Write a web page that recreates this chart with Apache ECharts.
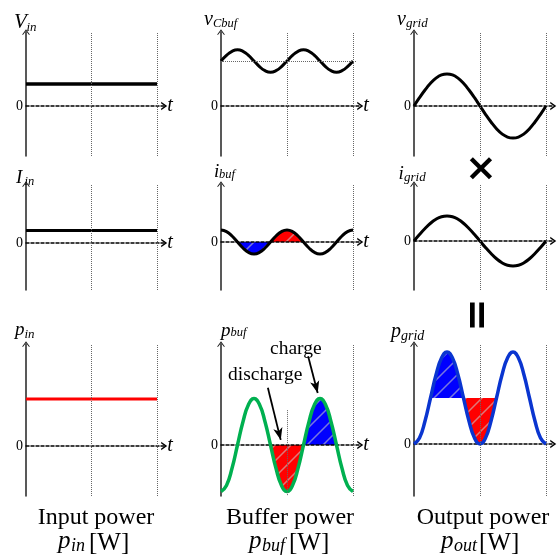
<!DOCTYPE html>
<html><head><meta charset="utf-8">
<script src="https://cdn.jsdelivr.net/npm/echarts@6/dist/echarts.min.js"></script>
<style>html,body{margin:0;padding:0;background:#fff}#c{width:557px;height:556px}</style>
</head><body><div id="c"></div>
<script>
// ---------- DATA ----------
// time samples; dotted verticals are at t = 1 and t = 2
const tSamples = [0, 0.083, 0.167, 0.25, 0.333, 0.417, 0.5, 0.583, 0.667, 0.75, 0.833, 0.917, 1,
                  1.083, 1.167, 1.25, 1.333, 1.417, 1.5, 1.583, 1.667, 1.75, 1.833, 1.917, 2];
const tFlat = [0, 2];
const vIn = [1, 1];
const iIn = [1, 1];
const pIn = [1, 1];
const vCbuf = [2, 2.25, 2.43, 2.5, 2.43, 2.25, 2, 1.75, 1.57, 1.5, 1.57, 1.75, 2,
               2.25, 2.43, 2.5, 2.43, 2.25, 2, 1.75, 1.57, 1.5, 1.57, 1.75, 2];
const vCbufMean = 2;
const vGrid = [0, 0.26, 0.5, 0.71, 0.87, 0.97, 1, 0.97, 0.87, 0.71, 0.5, 0.26, 0,
               -0.26, -0.5, -0.71, -0.87, -0.97, -1, -0.97, -0.87, -0.71, -0.5, -0.26, 0];
const iBuf = [1, 0.87, 0.5, 0, -0.5, -0.87, -1, -0.87, -0.5, 0, 0.5, 0.87, 1,
              0.87, 0.5, 0, -0.5, -0.87, -1, -0.87, -0.5, 0, 0.5, 0.87, 1];
const iGrid = [0, 0.26, 0.5, 0.71, 0.87, 0.97, 1, 0.97, 0.87, 0.71, 0.5, 0.26, 0,
               -0.26, -0.5, -0.71, -0.87, -0.97, -1, -0.97, -0.87, -0.71, -0.5, -0.26, 0];
const pBuf = [-1, -0.87, -0.5, 0, 0.5, 0.87, 1, 0.87, 0.5, 0, -0.5, -0.87, -1,
              -0.87, -0.5, 0, 0.5, 0.87, 1, 0.87, 0.5, 0, -0.5, -0.87, -1];
const pGrid = [0, 0.13, 0.5, 1, 1.5, 1.87, 2, 1.87, 1.5, 1, 0.5, 0.13, 0,
               0.13, 0.5, 1, 1.5, 1.87, 2, 1.87, 1.5, 1, 0.5, 0.13, 0];
const pGridAvg = 1;
// shaded segments [startIndex, endIndex] into tSamples
const iBufDischarge = [3, 9];
const iBufCharge = [9, 15];
const pBufDischarge = [9, 15];
const pBufCharge = [15, 21];
const pGridCharge = [3, 9];
const pGridDischarge = [9, 15];
// texts
const yNames = [['V','in'],['v','Cbuf'],['v','grid'],['I','in'],['i','buf'],['i','grid'],['p','in'],['p','buf'],['p','grid']];
const captions = ['Input power', 'Buffer power', 'Output power'];
const captionSyms = [['p','in'],['p','buf'],['p','out']];
const unitText = '[W]';
const zeroLabel = '0';
const timeName = 't';
const annot = ['discharge', 'charge'];

// ---------- LAYOUT ----------
const cols = [{left: 26, unit: 65.5}, {left: 221, unit: 66}, {left: 414, unit: 66}];
const rows = [{top: 32, bottom: 156}, {top: 184, bottom: 290}, {top: 344, bottom: 496}];
const xMax = 2.11;
const panels = [
  {c:0, r:0, zero:106, ppu:22}, {c:1, r:0, zero:106, ppu:22.5}, {c:2, r:0, zero:106, ppu:32},
  {c:0, r:1, zero:243, ppu:12.5}, {c:1, r:1, zero:242, ppu:12}, {c:2, r:1, zero:241, ppu:25},
  {c:0, r:2, zero:446, ppu:47}, {c:1, r:2, zero:445, ppu:46.5}, {c:2, r:2, zero:444, ppu:46}
];
const SERIF = '"Liberation Serif", "Times New Roman", serif';
const chevUp = 'path://M0,7 L5,0 L10,7 L8.6,7 L5,2.2 L1.4,7 Z';
const chevX = 'path://M0,7 L5,0 L10,7 L8,7 L5,2.8 L2,7 Z';

function hatch(color) {
  const S = 16;
  const c = document.createElement('canvas'); c.width = S; c.height = S;
  const g = c.getContext('2d'); g.fillStyle = color; g.fillRect(0, 0, S, S);
  g.strokeStyle = 'rgba(200,200,200,0.6)'; g.lineWidth = 1.5;
  g.beginPath();
  g.moveTo(0, S); g.lineTo(S, 0);
  g.moveTo(-S / 2, S / 2); g.lineTo(S / 2, -S / 2);
  g.moveTo(S / 2, S * 1.5); g.lineTo(S * 1.5, S / 2);
  g.stroke();
  return {image: c, repeat: 'repeat'};
}
const RED = hatch('#ff0000');
const BLUE = hatch('#0000ff');

const grid = [], xAxis = [], yAxis = [];
panels.forEach((p, i) => {
  const col = cols[p.c], row = rows[p.r];
  grid.push({left: col.left, top: row.top, width: col.unit * xMax, height: row.bottom - row.top, containLabel: false});
  xAxis.push({
    gridIndex: i, type: 'value', min: 0, max: xMax, z: 1.5,
    name: p.c < 2 ? timeName : '', nameLocation: 'end', nameGap: 3,
    nameTextStyle: {fontFamily: SERIF, fontStyle: 'italic', fontSize: 20, color: '#000', padding: [0, 0, 2, 0]},
    axisLine: {show: true, onZero: true, symbol: ['none', chevX], symbolSize: [10, 6],
      lineStyle: {color: '#000', width: 1.5, type: [3, 2]}},
    axisTick: {show: false}, axisLabel: {show: false}, splitLine: {show: false}
  });
  yAxis.push({
    gridIndex: i, type: 'value',
    min: -(row.bottom - p.zero) / p.ppu, max: (p.zero - row.top) / p.ppu,
    axisLine: {show: true, onZero: false, symbol: ['none', chevUp], symbolSize: [8, 6],
      lineStyle: {color: '#222', width: 1.5}},
    axisTick: {show: false}, splitLine: {show: false},
    axisLabel: {show: true, customValues: [0], formatter: () => zeroLabel, margin: 3,
      fontFamily: SERIF, fontSize: 14, color: '#000'}
  });
});

const dotted = {type: 'dotted', color: '#666', width: 1};
function vlines(extra) {
  return {silent: true, symbol: ['none', 'none'], label: {show: false}, lineStyle: dotted,
    animation: false, data: extra};
}
function curve(i, xs, ys, color, width, smooth, ml) {
  return {type: 'line', xAxisIndex: i, yAxisIndex: i, data: xs.map((x, k) => [x, ys[k]]),
    smooth: smooth, showSymbol: false, symbol: 'none', z: 3, silent: true,
    lineStyle: {color: color, width: width}, markLine: ml};
}
function fill(i, seg, ys, pattern, origin) {
  const d = [];
  for (let k = seg[0]; k <= seg[1]; k++) d.push([tSamples[k], ys[k]]);
  return {type: 'line', xAxisIndex: i, yAxisIndex: i, data: d, smooth: true, showSymbol: false,
    symbol: 'none', z: 1, silent: true, lineStyle: {width: 0, opacity: 0},
    areaStyle: {color: pattern, opacity: 1, origin: origin}};
}
const std = vlines([{xAxis: 1}, {xAxis: 2}]);
const arrowItem = (a, b) => [
  {coord: a, symbol: 'none', lineStyle: {type: 'solid', color: '#000', width: 1.8}},
  {coord: b, symbol: 'arrow', symbolSize: [7, 12]}
];
const series = [
  curve(0, tFlat, vIn, '#000', 3.5, false, std),
  curve(1, tSamples, vCbuf, '#000', 3, true, vlines([{xAxis: 1}, {xAxis: 2},
    [{coord: [0, vCbufMean]}, {coord: [2.06, vCbufMean]}]])),
  curve(2, tSamples, vGrid, '#000', 3, true, std),
  curve(3, tFlat, iIn, '#000', 3, false, std),
  fill(4, iBufDischarge, iBuf, BLUE, 'auto'),
  fill(4, iBufCharge, iBuf, RED, 'auto'),
  curve(4, tSamples, iBuf, '#000', 3, true, vlines([{xAxis: 2},
    [{coord: [1, 4.9]}, {coord: [1, -2.6]}]])),
  curve(5, tSamples, iGrid, '#000', 3, true, std),
  curve(6, tFlat, pIn, '#ff0000', 3, false, std),
  fill(7, pBufDischarge, pBuf, RED, 'auto'),
  fill(7, pBufCharge, pBuf, BLUE, 'auto'),
  curve(7, tSamples, pBuf, '#00b050', 3.5, true, vlines([{xAxis: 2},
    [{coord: [1, 0.75]}, {coord: [1, -1.09]}],
    arrowItem([0.71, 1.23], [0.905, 0.11]),
    arrowItem([1.32, 1.91], [1.465, 1.12])])),
  fill(8, pGridCharge, pGrid, BLUE, pGridAvg),
  fill(8, pGridDischarge, pGrid, RED, pGridAvg),
  curve(8, tSamples, pGrid, '#0a35d0', 3.5, true, std)
];

// ---------- TEXT ----------
function txt(x, y, text, font, align, extra) {
  return Object.assign({type: 'text', x: x, y: y, silent: true, z: 10,
    style: {text: text, font: font, fill: '#000', textAlign: align || 'left', align: align || 'left',
      textVerticalAlign: 'middle', verticalAlign: 'middle'}}, extra || {});
}
const nameLayout = [
  [14, 22.5, 21, 26.5, 27.5, 13], [204, 19.5, 20, 213, 24, 12.5], [397, 19.5, 20, 406, 24, 13],
  [16, 177.5, 19, 24.5, 181.5, 12.5], [214, 172, 19, 219, 174.5, 12.5], [398.5, 174, 19, 404, 177.5, 13],
  [15, 329.5, 19, 24.5, 334.5, 13], [221, 330.5, 19, 230.5, 333, 12.5], [391, 331.5, 20, 401, 336, 14]
];
const graphic = [];
yNames.forEach((n, i) => {
  const L = nameLayout[i];
  graphic.push(txt(L[0], L[1], n[0], 'italic ' + L[2] + 'px ' + SERIF));
  graphic.push(txt(L[3], L[4], n[1], 'italic ' + L[5] + 'px ' + SERIF));
});
const capX = [96, 290, 483];
const capSymLeft = [58, 249, 441];
const capUnitLeft = [89, 289, 479];
captions.forEach((c, i) => {
  graphic.push(txt(capX[i], 518, c, '24px ' + SERIF, 'center'));
  const x0 = capSymLeft[i];
  graphic.push(txt(x0, 541, captionSyms[i][0], 'italic 25px ' + SERIF));
  graphic.push(txt(x0 + 13, 546, captionSyms[i][1], 'italic 18px ' + SERIF));
  graphic.push(txt(capUnitLeft[i], 543, unitText, '25px ' + SERIF));
});
graphic.push(txt(228, 375, annot[0], '19.5px ' + SERIF));
graphic.push(txt(270, 349, annot[1], '19.5px ' + SERIF));
graphic.push(txt(481, 170, '×', 'bold 38px "DejaVu Sans"', 'center'));
graphic.push(txt(480, 315, '=', 'bold 40px "DejaVu Sans"', 'center', {rotation: Math.PI / 2}));

const chart = echarts.init(document.getElementById('c'), null, {renderer: 'canvas'});
chart.setOption({animation: false, grid, xAxis, yAxis, series, graphic});
</script></body></html>
